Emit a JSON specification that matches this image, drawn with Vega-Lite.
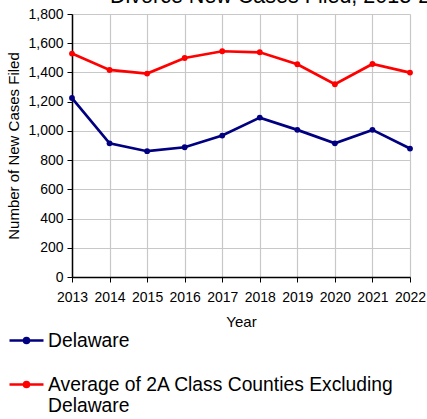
{
  "$schema": "https://vega.github.io/schema/vega-lite/v6.json",
  "width": 338,
  "height": 263,
  "autosize": {"type": "none"},
  "padding": {"left": 72, "top": 14, "right": 17, "bottom": 142},
  "background": "white",
  "view": {"stroke": null},
  "config": {
    "font": "Liberation Sans"
  },
  "title": {
    "text": "Divorce New Cases Filed, 2013-2022",
    "anchor": "start",
    "frame": "group",
    "dx": 38,
    "fontSize": 21.5,
    "fontWeight": "normal",
    "color": "black",
    "font": "Liberation Sans",
    "baseline": "alphabetic",
    "offset": -17
  },
  "data": {
    "values": [
      {"year": 2013, "series": "Delaware", "cases": 1225},
      {"year": 2014, "series": "Delaware", "cases": 915},
      {"year": 2015, "series": "Delaware", "cases": 861},
      {"year": 2016, "series": "Delaware", "cases": 888},
      {"year": 2017, "series": "Delaware", "cases": 968},
      {"year": 2018, "series": "Delaware", "cases": 1091},
      {"year": 2019, "series": "Delaware", "cases": 1007},
      {"year": 2020, "series": "Delaware", "cases": 915},
      {"year": 2021, "series": "Delaware", "cases": 1007},
      {"year": 2022, "series": "Delaware", "cases": 879},
      {"year": 2013, "series": "Average of 2A Class Counties Excluding Delaware", "cases": 1529},
      {"year": 2014, "series": "Average of 2A Class Counties Excluding Delaware", "cases": 1417},
      {"year": 2015, "series": "Average of 2A Class Counties Excluding Delaware", "cases": 1392},
      {"year": 2016, "series": "Average of 2A Class Counties Excluding Delaware", "cases": 1499},
      {"year": 2017, "series": "Average of 2A Class Counties Excluding Delaware", "cases": 1545},
      {"year": 2018, "series": "Average of 2A Class Counties Excluding Delaware", "cases": 1538},
      {"year": 2019, "series": "Average of 2A Class Counties Excluding Delaware", "cases": 1456},
      {"year": 2020, "series": "Average of 2A Class Counties Excluding Delaware", "cases": 1319},
      {"year": 2021, "series": "Average of 2A Class Counties Excluding Delaware", "cases": 1458},
      {"year": 2022, "series": "Average of 2A Class Counties Excluding Delaware", "cases": 1399}
    ]
  },
  "encoding": {
    "x": {
      "field": "year",
      "type": "quantitative",
      "scale": {"domain": [2013, 2022], "nice": false, "zero": false},
      "axis": {
        "title": "Year",
        "values": [2013, 2014, 2015, 2016, 2017, 2018, 2019, 2020, 2021, 2022],
        "format": "d",
        "labelFontSize": 14,
        "labelColor": "black",
        "labelPadding": 8,
        "labelFlush": false,
        "labelOverlap": false,
        "titleFontSize": 15,
        "titleFontWeight": "normal",
        "titleColor": "black",
        "titlePadding": 10,
        "domainColor": "black",
        "domainWidth": 1.5,
        "tickColor": "black",
        "tickSize": 5,
        "gridColor": "#c8c8c8",
        "gridWidth": 1.2,
        "gridOpacity": 1
      }
    },
    "y": {
      "field": "cases",
      "type": "quantitative",
      "scale": {"domain": [0, 1800], "nice": false},
      "axis": {
        "title": "Number of New Cases Filed",
        "values": [0, 200, 400, 600, 800, 1000, 1200, 1400, 1600, 1800],
        "format": ",d",
        "labelFontSize": 14,
        "labelColor": "black",
        "labelPadding": 4,
        "labelFlush": false,
        "titleFontSize": 15,
        "titleFontWeight": "normal",
        "titleColor": "black",
        "titlePadding": 6,
        "domainColor": "black",
        "domainWidth": 1.5,
        "tickColor": "black",
        "tickSize": 5,
        "gridColor": "#c8c8c8",
        "gridWidth": 1.2,
        "gridOpacity": 1
      }
    },
    "color": {
      "field": "series",
      "type": "nominal",
      "scale": {
        "domain": ["Delaware", "Average of 2A Class Counties Excluding Delaware"],
        "range": ["#000080", "#ff0000"]
      },
      "legend": {
        "title": null,
        "orient": "none",
        "legendX": -64,
        "legendY": 308,
        "direction": "vertical",
        "labelFontSize": 19.3,
        "labelColor": "black",
        "labelLimit": 0,
        "labelOffset": 3,
        "labelExpr": "datum.label == 'Delaware' ? 'Delaware' : ['Average of 2A Class Counties Excluding', 'Delaware']",
        "labelBaseline": "middle",
        "rowPadding": 15,
        "symbolType": "M-1,0H1M0,0m-0.15,0a0.15,0.15 0 1,0 0.3,0a0.15,0.15 0 1,0 -0.3,0",
        "symbolSize": 1156,
        "symbolStrokeWidth": 2.5,
        "encode": {
          "symbols": {
            "update": {
              "fill": {"scale": "color", "field": "value"},
              "stroke": {"scale": "color", "field": "value"},
              "fillOpacity": {"value": 1}
            }
          }
        }
      }
    }
  },
  "layer": [
    {"mark": {"type": "line", "strokeWidth": 2.7}},
    {"mark": {"type": "point", "filled": true, "size": 34, "opacity": 1}}
  ]
}
